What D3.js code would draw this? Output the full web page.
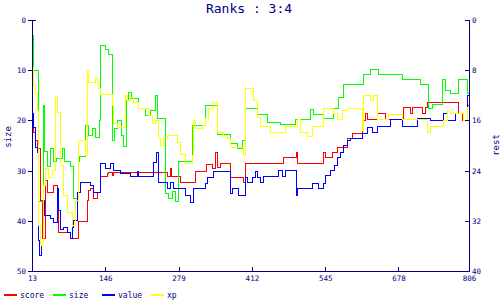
<!DOCTYPE html>
<html>
<head>
<meta charset="utf-8">
<script src="https://cdn.jsdelivr.net/npm/d3@7"></script>
<style>
  body { margin: 0; background: #fff; }
  text { font-family: "DejaVu Sans Mono", monospace; fill: #000080; }
</style>
</head>
<body>
<div id="chart"></div>
<script>
// ticks
var xTicks = [13, 146, 279, 412, 545, 678, 806];
var leftTicks = [0, 10, 20, 30, 40, 50];
var rightTicks = [0, 8, 16, 24, 32, 40];

// size (left axis) : [game, rank]
var size = [[13,3],[15,10],[24,36],[33,17],[35,26],[40,29],[46,25.5],[51,28],[57,27.5],[67,25.5],[71,28],
  [82,29],[87,35.5],[96,28],[98,27],[109,21],[115,23],[122,21.5],[127,23.3],[135,20],[136,5],[145,5.8],
  [151,6.8],[158,24],[162,21.5],[167,20],[174,23],[178,25],[184,16],[187,14.3],[193,15.5],[205,17.5],
  [218,19],[227,18],[236,15],[240,19.5],[254,34.5],[260,35.5],[267,34],[272,36],[278,28],[303,21],
  [327,17],[349,22.7],[372,24.5],[385,25.5],[394,24],[400,17.5],[421,18.7],[439,20.3],[463,20.7],
  [490,19.7],[517,17.7],[523,18.7],[541,19.5],[559,17.5],[568,15.3],[577,12.7],[614,10.8],[626,9.8],
  [641,10.8],[685,11.8],[717,12.7],[732,17.5],[739,16.7],[757,11.8],[762,14],[771,14.5],[786,11.8],[802,14.5]];

// score, value, xp (right axis)
var score = [[13,16.3],[15,17.8],[18,19.1],[22,20.4],[28,28.7],[31,34.7],[37,25.5],[40,27.4],[51,26.3],
  [58,28.7],[60,33.8],[82,34.7],[96,32],[113,28.7],[115,27.1],[118,26.8],[124,28.4],[131,27.4],[136,24.9],
  [149,24.4],[151,24.2],[158,24.7],[160,24.2],[258,24.9],[263,23.6],[265,24.9],[282,25.8],[309,24.1],
  [329,22.9],[340,23.6],[345,21],[349,23.4],[354,22.8],[372,25],[396,25.8],[400,22.8],[468,21.8],
  [492,21],[494,22.8],[541,21],[545,21.8],[557,21],[566,20.2],[585,18.8],[594,18],[612,15.9],[617,14.8],
  [621,15.8],[639,14.8],[654,15.8],[686,13.9],[699,14.8],[703,13.9],[721,14.8],[726,13.9],[730,13.1],
  [786,14.8],[793,15.9],[802,13.5]];

var value = [[13,14.8],[15,17.1],[18,20.2],[22,21],[24,35],[26,37.5],[29,35.9],[33,28.7],[35,31.1],
  [46,31.6],[51,32.2],[58,26.8],[60,30.3],[64,33.3],[69,33],[77,33.8],[82,34.7],[86,33],[87,31.9],
  [95,27.4],[100,25.8],[118,26.3],[124,27.4],[136,22.8],[145,23.6],[155,22.8],[160,23.9],[173,24.4],
  [191,24.9],[204,24.1],[205,24.9],[233,22.6],[238,21],[242,25.8],[258,26.8],[263,25.8],[269,26.8],
  [291,27.9],[300,29],[305,26.8],[327,26],[331,25],[341,24.1],[372,27.6],[376,26.8],[387,27.9],[400,25],
  [403,25.8],[412,25],[418,24.1],[421,25],[427,25.8],[432,24.9],[459,23.9],[467,24.9],[472,23.9],
  [492,27.9],[494,26.8],[521,26],[532,26.8],[541,26],[545,24.7],[554,23.9],[561,23.1],[566,21.8],
  [572,21],[577,19.9],[585,19.1],[590,18.8],[612,18],[621,17.1],[630,17.8],[639,16.9],[663,15.8],
  [685,16.9],[712,15.6],[735,15.9],[759,14.8],[766,15.9],[780,14.8],[795,15.9],[802,12]];

var xp = [[13,7.5],[15,10.4],[18,11.6],[22,14.3],[24,32.7],[28,35.9],[33,26.3],[37,23.6],[42,25],
  [49,23.9],[55,12.3],[58,14.7],[64,23.1],[69,27.9],[77,30.6],[86,32.7],[91,28.7],[96,19.1],[109,21.5],
  [113,8],[115,9.9],[127,9.2],[131,9.9],[133,10.8],[136,11.8],[158,13.5],[160,16.4],[167,17.1],[182,12],
  [185,12.7],[191,12.3],[196,13.1],[205,14],[223,15.1],[231,16.4],[236,15.9],[242,18.8],[245,19.9],
  [251,18.8],[258,18.3],[276,19.4],[282,21.4],[291,22.8],[303,21.5],[305,15.9],[309,17.2],[321,16.7],
  [327,15.6],[332,14],[341,13.1],[349,17.8],[360,18.3],[367,18.8],[372,20.2],[396,21.5],[400,10.8],
  [414,12.7],[421,15.5],[427,16.9],[445,17.8],[472,16.9],[494,15.8],[499,17.8],[512,18.5],[521,16.9],
  [541,14],[559,14.8],[566,15.8],[576,14.3],[585,14],[612,17.5],[614,12],[626,12.7],[632,12],[639,15.8],
  [659,15],[685,15.8],[730,17.8],[735,16.9],[759,15.9],[766,14.3],[771,14.8],[795,15.9],[802,13.9]];

var navy = '#000080';
var width = 500, height = 300;
var margins = { left: 32, right: 469, top: 20, bottom: 271 };

var svg = d3.select('#chart').append('svg')
  .attr('width', width)
  .attr('height', height);

var x = d3.scaleLinear().domain([13, 806]).range([margins.left, margins.right]);
var yLeft = d3.scaleLinear().domain([0, 50]).range([margins.top, margins.bottom]);
var yRight = d3.scaleLinear().domain([0, 40]).range([margins.top, margins.bottom]);

// title
svg.append('text')
  .attr('x', 249).attr('y', 13)
  .attr('text-anchor', 'middle')
  .style('font-size', '13px')
  .text('Ranks : 3:4');

function lineFor(scale) {
  return d3.line()
    .x(function(d) { return Math.round(x(d[0])) + 0.5; })
    .y(function(d) { return Math.round(scale(d[1])) + 0.5; })
    .curve(d3.curveStepAfter);
}

function withEnd(data) {
  return data.concat([[806, data[data.length - 1][1]]]);
}

var series = [
  { data: score, scale: yRight, color: '#ff0000', name: 'score' },
  { data: size, scale: yLeft, color: '#00ff00', name: 'size' },
  { data: value, scale: yRight, color: '#0000ff', name: 'value' },
  { data: xp, scale: yRight, color: '#ffff00', name: 'xp' }
];

series.forEach(function(s) {
  svg.append('path')
    .attr('d', lineFor(s.scale)(withEnd(s.data)))
    .attr('fill', 'none')
    .attr('stroke', s.color)
    .attr('stroke-width', 1)
    .attr('shape-rendering', 'crispEdges');
});

// axes
var leftAxis = d3.axisLeft(yLeft).tickValues(leftTicks).tickSizeInner(4).tickSizeOuter(-4).tickPadding(2);
var rightAxis = d3.axisRight(yRight).tickValues(rightTicks).tickSizeInner(-4).tickSizeOuter(-4).tickPadding(3);
var bottomAxis = d3.axisBottom(x).tickValues(xTicks).tickSizeInner(-4).tickSizeOuter(0).tickPadding(5);

function styleAxis(g) {
  g.selectAll('path, line').attr('stroke', navy).attr('shape-rendering', 'crispEdges');
  g.selectAll('text').attr('fill', navy).style('font-size', '7.5px')
    .style('font-family', '"DejaVu Sans Mono", monospace');
}

svg.append('g').attr('transform', 'translate(' + margins.left + ',0)').call(leftAxis).call(styleAxis);
svg.append('g').attr('transform', 'translate(' + margins.right + ',0)').call(rightAxis).call(styleAxis);
svg.append('g').attr('transform', 'translate(0,' + margins.bottom + ')').call(bottomAxis).call(styleAxis);

// axis titles
svg.append('text')
  .attr('transform', 'translate(11,137) rotate(-90)')
  .attr('text-anchor', 'middle')
  .style('font-size', '9px')
  .text('size');
svg.append('text')
  .attr('transform', 'translate(499,145) rotate(-90)')
  .attr('text-anchor', 'middle')
  .style('font-size', '9px')
  .text('rest');

// legend
var legendX = [4, 53, 102, 151];
series.forEach(function(s, i) {
  svg.append('line')
    .attr('x1', legendX[i]).attr('x2', legendX[i] + 13)
    .attr('y1', 295).attr('y2', 295)
    .attr('stroke', s.color).attr('stroke-width', 2);
  svg.append('text')
    .attr('x', legendX[i] + 16).attr('y', 298)
    .style('font-size', '8px')
    .text(s.name);
});
</script>
</body>
</html>
